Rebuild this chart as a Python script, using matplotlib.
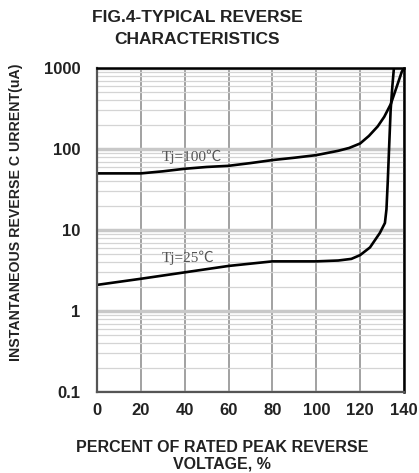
import matplotlib
matplotlib.use("Agg")
import matplotlib.pyplot as plt
from matplotlib.ticker import LogLocator, FixedLocator, NullFormatter

# ---- data ----
x_ticks = [0, 20, 40, 60, 80, 100, 120, 140]
y_ticks = [0.1, 1, 10, 100, 1000]
y_tick_labels = ["0.1", "1", "10", "100", "1000"]

v_100 = [0, 10, 20, 30, 40, 50, 60, 70, 80, 90, 100, 110, 115, 120, 124, 128, 131, 134, 136.8, 139, 140]
i_100 = [50, 50, 50, 53, 57, 60, 62, 67, 73, 78, 84, 95, 103, 117, 145, 190, 250, 360, 600, 900, 1000]

v_25 = [0, 20, 40, 60, 80, 100, 110, 116, 120, 124.5, 129, 131.3, 132.0, 132.6, 133.3, 133.9, 134.7, 135.4]
i_25 = [2.1, 2.5, 3.0, 3.6, 4.1, 4.1, 4.2, 4.4, 4.9, 6.1, 9.2, 12.2, 18, 40, 120, 300, 600, 1000]

title_lines = ["FIG.4-TYPICAL REVERSE", "CHARACTERISTICS"]
xlabel_text = "PERCENT OF RATED PEAK REVERSE\nVOLTAGE, %"
ylabel_text = "INSTANTANEOUS REVERSE C URRENT(uA)"
label_100 = "Tj=100\u2103"
label_25 = "Tj=25\u2103"

W, H = 419, 473
fig = plt.figure(figsize=(W / 100, H / 100), dpi=100)
ax = fig.add_axes([97 / W, 1 - 392 / H, 307 / W, 324 / H])

ax.set_yscale("log")
ax.set_xlim(0, 140)
ax.set_ylim(0.1, 1000)

ax.xaxis.set_major_locator(FixedLocator(x_ticks))
ax.yaxis.set_major_locator(FixedLocator(y_ticks))
ax.set_yticklabels(y_tick_labels)
ax.yaxis.set_minor_locator(LogLocator(base=10, subs=range(2, 10)))
ax.yaxis.set_minor_formatter(NullFormatter())

ax.grid(True, which="major", axis="x", color="#9a9a9a", linewidth=1.3)
ax.grid(True, which="major", axis="y", color="#c8c8c8", linewidth=2.5)
ax.grid(True, which="minor", axis="y", color="#d4d4d4", linewidth=0.9)
ax.set_axisbelow(True)

ax.plot(v_100, i_100, color="black", linewidth=1.9, solid_capstyle="round")
ax.plot(v_25, i_25, color="black", linewidth=1.9, solid_capstyle="round")

for side in ["top", "right"]:
    ax.spines[side].set_color("black")
    ax.spines[side].set_linewidth(1.8)
for side in ["bottom", "left"]:
    ax.spines[side].set_color("#555555")
    ax.spines[side].set_linewidth(1.6)

ax.tick_params(axis="both", which="both", length=0)
ax.tick_params(axis="y", pad=12)
ax.tick_params(axis="x", pad=8)
for lab in ax.get_xticklabels() + ax.get_yticklabels():
    lab.set_fontfamily("Liberation Sans")
    lab.set_fontweight("bold")
    lab.set_fontsize(12)
    lab.set_color("#222222")

serif_fam = ["Liberation Serif", "Noto Sans CJK SC", "DejaVu Sans"]
ax.text(29.6, 80, label_100, family=serif_fam, fontsize=11, color="#555555",
        ha="left", va="center")
ax.text(29.6, 4.5, label_25, family=serif_fam, fontsize=11, color="#555555",
        ha="left", va="center")

title_font = dict(family="Liberation Sans", weight="bold", size=12.5, color="#222222")
fig.text(197 / W, 1 - 17 / H, title_lines[0], ha="center", va="center", **title_font)
fig.text(197 / W, 1 - 40 / H, title_lines[1], ha="center", va="center", **title_font)

fig.text(222 / W, 1 - 456 / H, xlabel_text, ha="center", va="center", multialignment="center",
         linespacing=1.1, family="Liberation Sans", weight="bold", size=11.5, color="#222222")
fig.text(16 / W, 1 - 212 / H, ylabel_text, ha="center", va="center", rotation=90,
         family="Liberation Sans", weight="bold", size=10.2, color="#222222")

fig.savefig("out.png", dpi=100)
